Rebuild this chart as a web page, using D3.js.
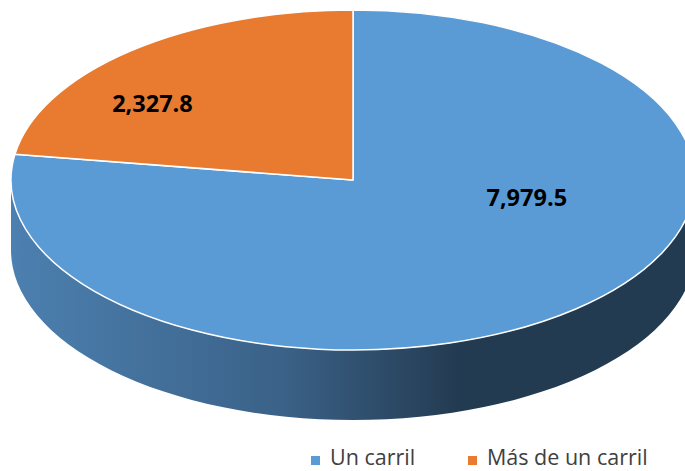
<!DOCTYPE html>
<html>
<head>
<meta charset="utf-8">
<script src="https://cdn.jsdelivr.net/npm/d3@7"></script>
<style>
  body { margin: 0; background: #fff; }
  svg { display: block; }
</style>
</head>
<body>
<div id="chart"></div>
<script>
const categories = ['Un carril', 'Más de un carril'];
const values = [7979.5, 2327.8];
const colors = ['#5b9bd5', '#e97b31'];
// where each data label sits, as a fraction of the radius (x, y) along the slice mid angle
const labelFx = [0.78, 0.90];
const labelFy = [0.13, 0.60];

const width = 685, height = 471;
const cx = 353, cy = 180, rx = 342, ry = 170, depth = 70;

const svg = d3.select('#chart').append('svg')
    .attr('width', width)
    .attr('height', height);

const xScale = d3.scaleLinear().domain([-1, 1]).range([cx - rx, cx + rx]);
const yScale = d3.scaleLinear().domain([-1, 1]).range([cy - ry, cy + ry]);
const px = a => xScale(Math.sin(a));
const py = a => yScale(-Math.cos(a));

const pie = d3.pie().sort(null).value(d => d);
const arcs = pie(values);

// side shading
const grad = svg.append('defs').append('linearGradient')
    .attr('id', 'sideGrad')
    .attr('gradientUnits', 'userSpaceOnUse')
    .attr('x1', cx - rx).attr('x2', 460)
    .attr('y1', 0).attr('y2', 0);
grad.append('stop').attr('offset', 0).attr('stop-color', '#4c80b0');
grad.append('stop').attr('offset', 0.6).attr('stop-color', '#3b6288');
grad.append('stop').attr('offset', 1).attr('stop-color', '#233b51');

function sidePath(s, e) {
    const x0 = px(s), y0 = py(s), x1 = px(e), y1 = py(e);
    const large = (e - s) > Math.PI ? 1 : 0;
    return 'M' + x0 + ',' + y0 +
        ' A' + rx + ',' + ry + ' 0 ' + large + ' 1 ' + x1 + ',' + y1 +
        ' L' + x1 + ',' + (y1 + depth) +
        ' A' + rx + ',' + ry + ' 0 ' + large + ' 0 ' + x0 + ',' + (y0 + depth) +
        ' Z';
}

function topPath(d) {
    const large = (d.endAngle - d.startAngle) > Math.PI ? 1 : 0;
    return 'M' + cx + ',' + cy +
        ' L' + px(d.startAngle) + ',' + py(d.startAngle) +
        ' A' + rx + ',' + ry + ' 0 ' + large + ' 1 ' + px(d.endAngle) + ',' + py(d.endAngle) +
        ' Z';
}

// front wall: only the part between 90 and 270 degrees shows
arcs.forEach((d, i) => {
    const s = Math.max(d.startAngle, Math.PI / 2);
    const e = Math.min(d.endAngle, Math.PI * 1.5);
    if (e <= s) return;
    svg.append('path')
        .attr('d', sidePath(s, e))
        .attr('fill', i === 0 ? 'url(#sideGrad)' : d3.color(colors[i]).darker(0.8));
});

svg.selectAll('path.top')
    .data(arcs)
    .enter().append('path')
    .attr('class', 'top')
    .attr('d', topPath)
    .attr('fill', (d, i) => colors[i])
    .attr('stroke', '#ffffff')
    .attr('stroke-width', 1.5)
    .attr('stroke-linejoin', 'round');

const fmt = d3.format(',.1f');
svg.selectAll('text.val')
    .data(arcs)
    .enter().append('text')
    .attr('class', 'val')
    .attr('x', (d, i) => {
        const m = (d.startAngle + d.endAngle) / 2;
        return cx + rx * labelFx[i] * Math.sin(m);
    })
    .attr('y', (d, i) => {
        const m = (d.startAngle + d.endAngle) / 2;
        return cy - ry * labelFy[i] * Math.cos(m) + 9;
    })
    .attr('text-anchor', 'middle')
    .style('font-family', '"Open Sans", sans-serif')
    .style('font-weight', 'bold')
    .style('font-size', '23.5px')
    .attr('fill', '#000000')
    .text(d => fmt(d.data));

// legend
const legendX = [311, 468];
const legend = svg.selectAll('g.legend')
    .data(categories)
    .enter().append('g')
    .attr('class', 'legend')
    .attr('transform', (d, i) => 'translate(' + legendX[i] + ',456)');
legend.append('rect')
    .attr('width', 9)
    .attr('height', 9)
    .attr('fill', (d, i) => colors[i]);
legend.append('text')
    .attr('x', 19)
    .attr('y', 9)
    .style('font-family', '"Open Sans", sans-serif')
    .style('font-size', '21.5px')
    .attr('fill', '#404040')
    .text(d => d);
</script>
</body>
</html>
